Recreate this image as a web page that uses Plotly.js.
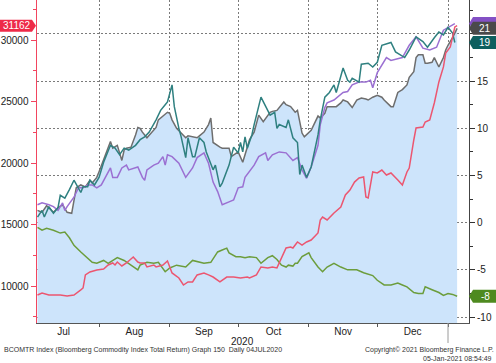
<!DOCTYPE html>
<html><head><meta charset="utf-8">
<script src="https://cdn.plot.ly/plotly-3.0.1.min.js"></script>
<style>html,body{margin:0;padding:0;background:#fff}#chart{width:496px;height:363px}</style>
</head><body><div id="chart"></div>
<script>
// ---- Data ----
// BCOMTR Index, % change (right axis), drawn as filled area
const bcomDates = ['2020-07-05','2020-07-07','2020-07-09','2020-07-12','2020-07-14','2020-07-16','2020-07-18','2020-07-20','2020-07-22','2020-07-24','2020-07-26','2020-07-28','2020-07-29','2020-07-31','2020-08-01','2020-08-03','2020-08-05','2020-08-06','2020-08-07','2020-08-09','2020-08-11','2020-08-12','2020-08-13','2020-08-15','2020-08-17','2020-08-18','2020-08-19','2020-08-20','2020-08-22','2020-08-24','2020-08-26','2020-08-27','2020-08-29','2020-08-31','2020-09-01','2020-09-02','2020-09-04','2020-09-06','2020-09-08','2020-09-09','2020-09-11','2020-09-13','2020-09-14','2020-09-16','2020-09-18','2020-09-19','2020-09-20','2020-09-22','2020-09-23','2020-09-24','2020-09-27','2020-09-28','2020-09-30','2020-10-01','2020-10-03','2020-10-05','2020-10-06','2020-10-08','2020-10-10','2020-10-12','2020-10-14','2020-10-15','2020-10-16','2020-10-18','2020-10-21','2020-10-22','2020-10-24','2020-10-26','2020-10-27','2020-10-29','2020-10-30','2020-11-01','2020-11-02','2020-11-05','2020-11-06','2020-11-08','2020-11-09','2020-11-12','2020-11-13','2020-11-15','2020-11-16','2020-11-18','2020-11-20','2020-11-22','2020-11-24','2020-11-26','2020-11-27','2020-11-29','2020-12-01','2020-12-03','2020-12-04','2020-12-07','2020-12-08','2020-12-10','2020-12-12','2020-12-14','2020-12-15','2020-12-17','2020-12-18','2020-12-19','2020-12-21','2020-12-22','2020-12-23','2020-12-25','2020-12-26','2020-12-28','2020-12-30','2020-12-31','2021-01-01','2021-01-03','2021-01-05'];
const bcomVals = [1.3,1.1,1.8,1.1,1.6,1.9,1.1,1.0,3.7,4.0,3.8,4.5,4.2,4.8,5.4,6.6,8.0,8.6,7.9,8.2,6.6,7.7,7.9,8.0,9.3,10.1,10.0,9.6,9.0,9.6,10.1,10.9,11.3,11.7,11.6,10.9,10.0,9.5,9.0,9.2,9.1,9.0,9.2,9.6,10.4,11.1,8.5,8.1,8.0,7.9,7.9,7.0,7.4,7.5,6.4,8.2,8.8,9.6,11.4,10.7,11.4,11.7,11.8,11.9,12.8,12.5,12.3,11.7,11.9,9.5,9.1,9.6,9.8,11.3,11.1,11.6,12.3,12.3,12.3,12.7,13.0,12.8,12.2,13.0,13.2,13.1,13.0,13.3,13.5,13.3,13.0,12.3,12.3,13.8,14.1,14.6,15.4,16.0,17.5,17.8,17.8,16.9,16.9,17.0,17.5,16.5,17.5,18.3,18.8,19.6,20.6];

// Teal series, % change (right axis)
const tealDates = ['2020-07-05','2020-07-07','2020-07-08','2020-07-10','2020-07-12','2020-07-14','2020-07-15','2020-07-17','2020-07-19','2020-07-21','2020-07-24','2020-07-25','2020-07-27','2020-07-28','2020-07-30','2020-08-01','2020-08-03','2020-08-05','2020-08-06','2020-08-08','2020-08-10','2020-08-12','2020-08-14','2020-08-17','2020-08-19','2020-08-21','2020-08-23','2020-08-26','2020-08-28','2020-08-30','2020-08-31','2020-09-02','2020-09-03','2020-09-05','2020-09-06','2020-09-08','2020-09-09','2020-09-11','2020-09-12','2020-09-14','2020-09-16','2020-09-17','2020-09-20','2020-09-21','2020-09-23','2020-09-24','2020-09-27','2020-09-29','2020-10-01','2020-10-02','2020-10-03','2020-10-04','2020-10-05','2020-10-07','2020-10-08','2020-10-11','2020-10-13','2020-10-15','2020-10-17','2020-10-18','2020-10-19','2020-10-22','2020-10-23','2020-10-25','2020-10-27','2020-10-28','2020-10-29','2020-10-31','2020-11-02','2020-11-05','2020-11-06','2020-11-08','2020-11-10','2020-11-12','2020-11-13','2020-11-16','2020-11-18','2020-11-19','2020-11-20','2020-11-23','2020-11-24','2020-11-27','2020-11-29','2020-12-01','2020-12-03','2020-12-07','2020-12-09','2020-12-13','2020-12-15','2020-12-18','2020-12-21','2020-12-23','2020-12-26','2020-12-28','2020-12-30','2021-01-01','2021-01-03','2021-01-04'];
const tealVals = [0.6,1.3,0.6,1.7,1.0,1.6,2.9,2.6,3.5,4.5,3.2,3.8,3.8,4.5,4.0,4.8,6.4,7.7,8.2,7.9,7.2,7.9,7.7,8.2,8.8,9.1,9.6,10.9,11.9,12.5,12.8,14.6,12.3,10.0,9.1,6.9,9.0,7.0,7.0,9.0,8.5,7.5,5.6,6.1,3.8,4.2,6.1,8.0,7.4,8.5,7.5,9.1,7.9,9.3,10.4,13.3,12.3,11.4,11.7,10.0,10.4,10.1,10.9,9.0,8.5,5.1,6.1,4.8,5.9,9.3,10.9,13.3,13.8,14.6,13.8,16.4,15.1,14.9,15.3,14.9,16.8,16.9,16.5,17.0,18.8,19.1,18.1,17.5,18.3,19.7,19.2,18.6,19.6,20.2,19.9,20.7,20.1,19.1];

// Purple series, % change (right axis)
const purpleDates = ['2020-07-05','2020-07-07','2020-07-10','2020-07-12','2020-07-14','2020-07-16','2020-07-17','2020-07-18','2020-07-21','2020-07-23','2020-07-25','2020-07-27','2020-07-29','2020-07-31','2020-08-02','2020-08-05','2020-08-06','2020-08-07','2020-08-09','2020-08-11','2020-08-13','2020-08-14','2020-08-18','2020-08-20','2020-08-21','2020-08-22','2020-08-25','2020-08-27','2020-08-29','2020-08-30','2020-08-31','2020-09-02','2020-09-05','2020-09-08','2020-09-11','2020-09-13','2020-09-16','2020-09-18','2020-09-20','2020-09-22','2020-09-24','2020-09-27','2020-09-29','2020-10-01','2020-10-03','2020-10-04','2020-10-06','2020-10-08','2020-10-10','2020-10-13','2020-10-14','2020-10-16','2020-10-19','2020-10-22','2020-10-25','2020-10-27','2020-10-29','2020-10-31','2020-11-02','2020-11-05','2020-11-06','2020-11-08','2020-11-09','2020-11-12','2020-11-16','2020-11-18','2020-11-20','2020-11-23','2020-11-26','2020-11-28','2020-11-29','2020-12-01','2020-12-05','2020-12-07','2020-12-12','2020-12-15','2020-12-18','2020-12-21','2020-12-24','2020-12-27','2020-12-30','2021-01-01','2021-01-04'];
const purpleVals = [1.9,2.1,1.9,1.7,1.3,2.1,1.3,1.7,2.7,3.7,3.7,4.0,4.0,3.7,4.0,5.4,5.8,4.8,4.8,5.8,6.1,5.6,5.9,4.8,4.5,5.6,6.1,6.3,7.0,6.1,7.2,7.0,6.3,4.8,5.8,6.9,7.4,6.3,4.3,3.3,1.9,2.2,2.4,3.7,3.8,4.8,5.4,6.1,7.0,7.4,6.6,7.2,7.5,7.4,6.6,6.9,5.6,4.7,5.9,8.2,10.4,12.2,12.7,13.0,13.8,13.9,14.6,14.9,14.9,15.1,14.3,15.9,17.5,17.2,17.5,18.8,19.7,18.5,18.3,18.6,20.4,20.7,21.1];

// Green series, % change (right axis)
const greenDates = ['2020-07-05','2020-07-07','2020-07-09','2020-07-12','2020-07-15','2020-07-17','2020-07-19','2020-07-21','2020-07-24','2020-07-27','2020-07-29','2020-07-31','2020-08-03','2020-08-05','2020-08-07','2020-08-09','2020-08-12','2020-08-15','2020-08-18','2020-08-19','2020-08-22','2020-08-25','2020-08-27','2020-08-30','2020-09-01','2020-09-04','2020-09-08','2020-09-11','2020-09-14','2020-09-16','2020-09-19','2020-09-22','2020-09-24','2020-09-26','2020-09-27','2020-09-30','2020-10-02','2020-10-04','2020-10-06','2020-10-09','2020-10-11','2020-10-14','2020-10-16','2020-10-18','2020-10-20','2020-10-22','2020-10-23','2020-10-25','2020-10-26','2020-10-27','2020-10-29','2020-11-01','2020-11-02','2020-11-05','2020-11-07','2020-11-09','2020-11-12','2020-11-15','2020-11-18','2020-11-22','2020-11-25','2020-11-29','2020-12-01','2020-12-04','2020-12-07','2020-12-10','2020-12-12','2020-12-14','2020-12-17','2020-12-19','2020-12-21','2020-12-22','2020-12-25','2020-12-28','2020-12-30','2021-01-01','2021-01-03','2021-01-05'];
const greenVals = [-0.5,-0.8,-0.6,-0.8,-1.1,-1.0,-1.6,-2.4,-3.1,-3.7,-4.2,-4.3,-4.0,-4.3,-4.0,-3.7,-4.0,-4.5,-5.0,-4.5,-4.2,-4.3,-4.2,-5.2,-4.8,-4.5,-4.7,-4.0,-4.2,-4.3,-4.2,-3.1,-2.9,-2.7,-3.2,-3.6,-3.6,-3.7,-3.6,-3.7,-4.3,-3.7,-3.5,-3.9,-4.5,-4.7,-4.5,-4.6,-4.3,-4.3,-3.6,-3.2,-3.7,-4.7,-5.2,-4.7,-4.3,-4.7,-5.0,-5.0,-5.3,-5.6,-6.1,-6.6,-6.6,-6.4,-6.6,-6.8,-7.4,-7.5,-7.5,-6.8,-7.1,-7.4,-7.7,-7.5,-7.6,-7.8];

// Red series, price level (left axis)
const redDates = ['2020-07-05','2020-07-07','2020-07-10','2020-07-15','2020-07-18','2020-07-21','2020-07-24','2020-07-25','2020-07-26','2020-07-28','2020-07-31','2020-08-03','2020-08-05','2020-08-07','2020-08-08','2020-08-09','2020-08-11','2020-08-13','2020-08-16','2020-08-18','2020-08-19','2020-08-21','2020-08-22','2020-08-25','2020-08-26','2020-08-29','2020-08-31','2020-09-02','2020-09-05','2020-09-07','2020-09-09','2020-09-11','2020-09-13','2020-09-16','2020-09-18','2020-09-20','2020-09-23','2020-09-26','2020-09-29','2020-10-02','2020-10-05','2020-10-06','2020-10-09','2020-10-11','2020-10-14','2020-10-16','2020-10-18','2020-10-20','2020-10-22','2020-10-24','2020-10-25','2020-10-27','2020-10-29','2020-10-31','2020-11-02','2020-11-05','2020-11-06','2020-11-07','2020-11-09','2020-11-12','2020-11-15','2020-11-17','2020-11-19','2020-11-21','2020-11-23','2020-11-25','2020-11-26','2020-11-27','2020-11-29','2020-12-01','2020-12-03','2020-12-05','2020-12-07','2020-12-10','2020-12-12','2020-12-14','2020-12-15','2020-12-17','2020-12-18','2020-12-21','2020-12-22','2020-12-24','2020-12-26','2020-12-28','2020-12-30','2020-12-31','2021-01-02','2021-01-03','2021-01-04','2021-01-05'];
const redVals = [9270,9430,9270,9270,9190,9270,9680,9840,10900,11140,11300,11380,11710,11870,11710,11950,11630,11870,12360,11950,11870,11870,11550,11710,11550,11710,12030,11060,10650,10080,10330,10330,10900,11060,10900,10730,10330,10730,10730,10650,10730,10650,10900,11550,11470,11550,11470,12280,13090,13170,13090,13580,13330,13580,13740,14310,15370,15610,15370,15940,16420,17400,17800,18450,18780,18860,17240,17160,19270,19190,19430,19020,19190,18620,18210,19270,19590,21870,22850,22930,23330,23500,24880,26590,27810,28940,29430,30240,31060,31162];

// Axis settings and texts
const rightRange = [-10.63, 23.6];
const rightTicks = [-10, -5, 0, 5, 10, 15, 20];
const rightTickText = ['-10', '-5', '0', '5', '10', '15', ''];   // "20" is hidden behind the value tags
const leftRange = [6992, 33252];
const xRange = ['2020-07-04 19:00', '2021-01-10 05:00'];
const yearLabel = '2020';
const footLeft = 'BCOMTR Index (Bloomberg Commodity Index Total Return) Graph 150  Daily 04JUL2020';
const footRight1 = 'Copyright\u00a9 2021 Bloomberg Finance L.P.';
const footRight2 = '05-Jan-2021 08:54:49';

// ---- Styles ----
const C = {gray:'#6e6e6e', fill:'#cde4fb', teal:'#2f8080', purple:'#9b70d2', green:'#6c9d3c', red:'#ec5670', axisRed:'#f2455f', grid:'#7a7a7a', text:'#222'};
const FONT = 'Liberation Sans, Arial, sans-serif';
const last = a => a[a.length-1];

const traces = [
  {x: bcomDates, y: bcomDates.map(() => rightRange[0]), yaxis:'y', mode:'lines', line:{width:0}, hoverinfo:'skip', showlegend:false},
  {x: bcomDates, y: bcomVals, yaxis:'y', mode:'lines', fill:'tonexty', fillcolor:C.fill, line:{color:C.gray, width:1.5}, name:'BCOMTR Index'},
  {x: purpleDates, y: purpleVals, yaxis:'y', mode:'lines', line:{color:C.purple, width:1.5}, name:'Purple'},
  {x: tealDates, y: tealVals, yaxis:'y', mode:'lines', line:{color:C.teal, width:1.5}, name:'Teal'},
  {x: greenDates, y: greenVals, yaxis:'y', mode:'lines', line:{color:C.green, width:1.5}, name:'Green'},
  {x: redDates, y: redVals, yaxis:'y2', mode:'lines', line:{color:C.red, width:1.5}, name:'Red'}
];

function rightTag(val, color) {
  return {type:'path', xref:'paper', yref:'y', xsizemode:'pixel', ysizemode:'pixel', xanchor:1, yanchor:val,
    path:'M 0,0 L 4,6.5 L 27,6.5 L 27,-6.5 L 4,-6.5 Z', fillcolor:color, line:{width:0}, layer:'above'};
}
function rightTagText(val, txt) {
  return {xref:'paper', yref:'y', x:1, y:val, xanchor:'center', yanchor:'middle', xshift:16, showarrow:false,
    text:txt, font:{family:FONT, size:10, color:'#fff'}};
}

const shapes = [
  rightTag(last(purpleVals), '#8350c4'),
  rightTag(last(bcomVals), '#4a4a4a'),
  rightTag(last(tealVals), '#0e5f5f'),
  rightTag(last(greenVals), '#4e8a1f'),
  {type:'path', xref:'paper', yref:'y2', xsizemode:'pixel', ysizemode:'pixel', xanchor:0, yanchor:last(redVals),
    path:'M -37,6 L -5,6 L -1,0 L -5,-6 L -37,-6 Z', fillcolor:'#ee2a48', line:{width:0}, layer:'above'},
  {type:'line', xref:'x', yref:'paper', x0:'2021-01-01', x1:'2021-01-01', y0:0, y1:-0.062, line:{color:'#9a9a9a', width:1}}
];

const annotations = [
  rightTagText(last(bcomVals), String(Math.round(last(bcomVals)))),
  rightTagText(last(tealVals), String(Math.round(last(tealVals)))),
  rightTagText(last(greenVals), String(Math.round(last(greenVals)))),
  {xref:'paper', yref:'y2', x:0, y:last(redVals), xanchor:'center', yanchor:'middle', xshift:-20, showarrow:false,
    text:String(last(redVals)), font:{family:FONT, size:10, color:'#fff'}},
  {xref:'x', yref:'paper', x:'2020-10-03', y:0, xanchor:'center', yanchor:'middle', yshift:-18, showarrow:false,
    text:yearLabel, font:{family:FONT, size:10, color:C.text}},
  {xref:'paper', yref:'paper', x:0, y:0, xanchor:'left', yanchor:'middle', xshift:-35, yshift:-27, showarrow:false,
    text:footLeft, font:{family:FONT, size:7, color:'#333'}},
  {xref:'paper', yref:'paper', x:1, y:0, xanchor:'right', yanchor:'middle', xshift:27, yshift:-27, showarrow:false,
    text:footRight1, font:{family:FONT, size:7, color:'#333'}},
  {xref:'paper', yref:'paper', x:1, y:0, xanchor:'right', yanchor:'middle', xshift:25, yshift:-35, showarrow:false,
    text:footRight2, font:{family:FONT, size:7, color:'#333'}}
];

const layout = {
  width:496, height:363, margin:{l:37, r:27, t:0, b:40},
  paper_bgcolor:'#fff', plot_bgcolor:'#fff', showlegend:false,
  font:{family:FONT, size:10, color:C.text},
  xaxis:{type:'date', range:xRange, dtick:'M1', tick0:'2020-07-01', ticklabelmode:'period', tickformat:'%b',
    ticklabelstandoff:-4,
    showgrid:true, gridcolor:C.grid, griddash:'2px,2px', gridwidth:1,
    ticks:'outside', ticklen:3, tickcolor:'#555', showline:true, linecolor:'#555', linewidth:1,
    tickfont:{family:FONT, size:10, color:C.text}, zeroline:false},
  yaxis:{side:'right', range:rightRange, tickmode:'array', tickvals:rightTicks, ticktext:rightTickText,
    showgrid:true, gridcolor:C.grid, griddash:'2px,2px', gridwidth:1,
    ticks:'outside', ticklen:5, tickcolor:'#333', showline:true, linecolor:'#444', linewidth:1, zeroline:false,
    minor:{dtick:2.5, ticks:'outside', ticklen:3, tickcolor:'#333', showgrid:false},
    tickfont:{family:FONT, size:10, color:C.text}},
  yaxis2:{side:'left', overlaying:'y', range:leftRange, dtick:5000, tick0:0, tickformat:'d', showgrid:false, zeroline:false,
    ticks:'outside', ticklen:5, tickcolor:C.axisRed, showline:true, linecolor:C.axisRed, linewidth:1.5,
    minor:{dtick:2500, ticks:'outside', ticklen:3, tickcolor:C.axisRed, showgrid:false},
    tickfont:{family:FONT, size:10, color:C.text}},
  shapes:shapes, annotations:annotations
};

Plotly.newPlot('chart', traces, layout, {staticPlot:true, displayModeBar:false});
</script>
</body></html>
